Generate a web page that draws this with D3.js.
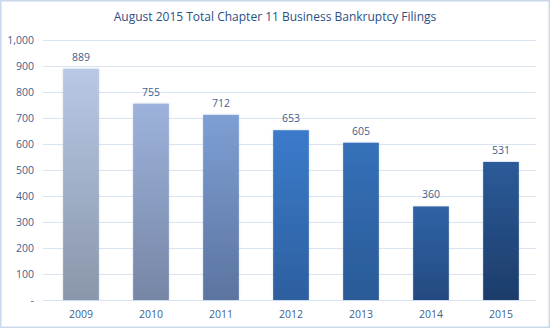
<!DOCTYPE html>
<html>
<head>
<meta charset="utf-8">
<script src="https://cdn.jsdelivr.net/npm/d3@7"></script>
<style>
  html, body { margin: 0; padding: 0; background: #fff; }
  svg { display: block; }
</style>
</head>
<body>
<svg id="chart" width="550" height="328"></svg>
<script>
// Filings per year
const years = ["2009", "2010", "2011", "2012", "2013", "2014", "2015"];
const filings = [889, 755, 712, 653, 605, 360, 531];
const yTicks = [0, 100, 200, 300, 400, 500, 600, 700, 800, 900, 1000];
const titleText = "August 2015 Total Chapter 11 Business Bankruptcy Filings";
// Top / bottom gradient stops for each bar
const topColors = ["#b9c9e5", "#9db2dc", "#7e9fd4", "#3b7bcb", "#3571b9", "#2f63a6", "#2b5b99"];
const bottomColors = ["#8996ab", "#7686a5", "#5b74a0", "#2d5f9f", "#2a5a96", "#244a80", "#1d3c6a"];

const W = 550, H = 328;
const margin = { left: 46, right: 14, top: 40, bottom: 28 };
const svg = d3.select("#chart");

// outer frame
svg.append("rect")
  .attr("x", 0.75).attr("y", 0.75)
  .attr("width", W - 1.5).attr("height", H - 1.5)
  .attr("fill", "#fff").attr("stroke", "#c9d8ec").attr("stroke-width", 1.5);

const x = d3.scaleBand().domain(years)
  .range([margin.left, W - margin.right])
  .paddingInner(0.49).paddingOuter(0.245);
const y = d3.scaleLinear().domain([0, 1000]).range([H - margin.bottom, margin.top]);

const defs = svg.append("defs");
years.forEach((yr, i) => {
  const g = defs.append("linearGradient")
    .attr("id", "grad" + i).attr("x1", 0).attr("y1", 0).attr("x2", 0).attr("y2", 1);
  g.append("stop").attr("offset", "0%").attr("stop-color", topColors[i]);
  g.append("stop").attr("offset", "100%").attr("stop-color", bottomColors[i]);
});
const glow = defs.append("filter").attr("id", "glow")
  .attr("x", "-20%").attr("y", "-5%").attr("width", "140%").attr("height", "110%");
glow.append("feGaussianBlur").attr("in", "SourceAlpha").attr("stdDeviation", 1.2).attr("result", "b");
glow.append("feFlood").attr("flood-color", "#8ea6cc").attr("flood-opacity", 0.45);
glow.append("feComposite").attr("in2", "b").attr("operator", "in").attr("result", "s");
const fm = glow.append("feMerge");
fm.append("feMergeNode").attr("in", "s");
fm.append("feMergeNode").attr("in", "SourceGraphic");

const font = "'Open Sans', 'Noto Sans', sans-serif";
const textColor = "#3f5f8f";

// y axis with gridlines
const yAxis = d3.axisLeft(y)
  .tickValues(yTicks)
  .tickSize(-(W - margin.left - margin.right + 3))
  .tickPadding(9)
  .tickFormat(d => d === 0 ? "-" : d3.format(",")(d));
const gy = svg.append("g").attr("transform", `translate(${margin.left - 3},0)`).call(yAxis);
gy.select(".domain").remove();
gy.selectAll(".tick line").attr("stroke", "#dae4f3").attr("stroke-width", 1);
gy.selectAll(".tick text")
  .attr("fill", textColor).attr("font-family", font)
  .attr("font-size", 10.5);

// bars
svg.append("g").selectAll("rect").data(filings).join("rect")
  .attr("x", (d, i) => x(years[i]))
  .attr("y", d => y(d))
  .attr("width", x.bandwidth())
  .attr("height", d => y(0) - y(d))
  .attr("fill", (d, i) => `url(#grad${i})`)
  .attr("filter", "url(#glow)");

// value labels
svg.append("g").selectAll("text").data(filings).join("text")
  .attr("x", (d, i) => x(years[i]) + x.bandwidth() / 2)
  .attr("y", d => y(d) - 8)
  .attr("text-anchor", "middle")
  .attr("fill", textColor).attr("font-family", font)
  .attr("font-size", 10.5)
  .text(d => d);

// x axis
const xAxis = d3.axisBottom(x).tickSize(0).tickPadding(11);
const gx = svg.append("g").attr("transform", `translate(0,${y(0)})`).call(xAxis);
gx.select(".domain").remove();
gx.selectAll(".tick text")
  .attr("fill", textColor).attr("font-family", font)
  .attr("font-size", 10.5);

// title
svg.append("text")
  .attr("x", 275).attr("y", 21)
  .attr("text-anchor", "middle")
  .attr("fill", "#2b4f86").attr("font-family", font)
  .attr("font-size", 12)
  .text(titleText);
</script>
</body>
</html>
